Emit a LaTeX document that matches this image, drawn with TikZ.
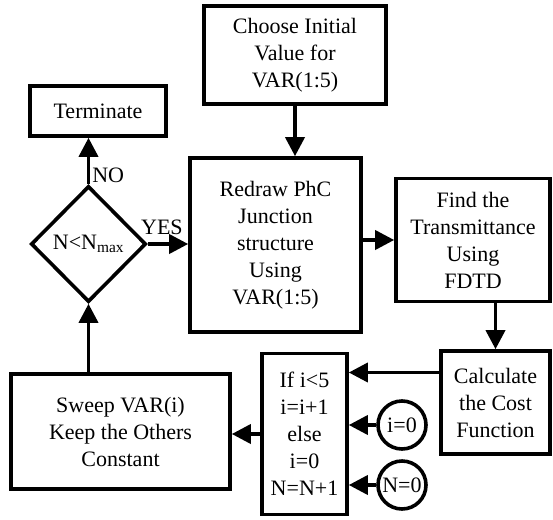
\documentclass[tikz,border=0pt]{standalone}
\usepackage{fontspec}
\setmainfont{Liberation Serif}
\newfontfamily\chartfont{Liberation Serif}
\usetikzlibrary{arrows.meta,shapes.geometric}

\tikzset{
  block/.style={draw, line width=3.6pt, align=center, inner sep=0pt},
  decision/.style={diamond, draw, line width=3.6pt, inner sep=0pt},
  initval/.style={circle, draw, line width=3.6pt, inner sep=1pt, minimum size=48pt},
  arr/.style={line width=3.6pt, -{Triangle[length=19pt,width=19pt]}},
}

\begin{document}
\begin{tikzpicture}[x=1pt,y=-1pt,font=\chartfont\fontsize{22}{27}\selectfont]
\useasboundingbox (0,0) rectangle (553,519);

\node[block, minimum width=182pt, minimum height=98pt] (choose) at (295,55) {Choose Initial\\Value for\\VAR(1:5)};
\node[block, minimum width=171pt, minimum height=174pt] (redraw) at (275.5,245) {Redraw PhC\\Junction\\structure\\Using\\VAR(1:5)};
\node[block, minimum width=154pt, minimum height=123pt] (find) at (473,240) {Find the\\Transmittance\\Using\\FDTD};
\node[block, minimum width=109pt, minimum height=103pt] (calc) at (495.5,402.5) {Calculate\\the Cost\\Function};
\node[block, minimum width=85pt, minimum height=161pt] (ifb) at (304.5,434) {If i<5\\i=i+1\\else\\i=0\\N=N+1};
\node[block, minimum width=219pt, minimum height=115pt] (sweep) at (120.5,431.5) {Sweep VAR(i)\\Keep the Others\\Constant};
\node[block, minimum width=136pt, minimum height=50pt] (term) at (98,111) {Terminate};
\node[decision, minimum width=115pt, minimum height=116pt] (dec) at (88.5,244) {N<N\textsubscript{max}};
\node[initval] (izero) at (402,425) {i=0};
\node[initval] (nzero) at (402,485) {N=0};

\coordinate (calcout) at ([yshift=30pt]calc.west);

\draw[arr] (choose.south) -- (choose.south |- redraw.north);
\draw[arr] (find.west -| redraw.east) -- (find.west);
\draw[arr] (calc.north |- find.south) -- (calc.north);
\draw[arr] (calcout) -- (calcout -| ifb.east);
\draw[arr] (izero.west) -- (izero.west -| ifb.east);
\draw[arr] (nzero.west) -- (nzero.west -| ifb.east);
\draw[arr] (ifb.west) -- (ifb.west -| sweep.east);
\draw[arr] (sweep.north -| dec.south) -- (dec.south);
\draw[arr] (dec.east) -- node[above, pos=0.35, inner sep=7pt] (yeslbl) {YES} (dec.east -| redraw.west);
\draw[arr] (dec.north) -- node[right, pos=0.2, inner sep=2pt] (nolbl) {NO} (dec.north |- term.south);
\end{tikzpicture}
\end{document}
